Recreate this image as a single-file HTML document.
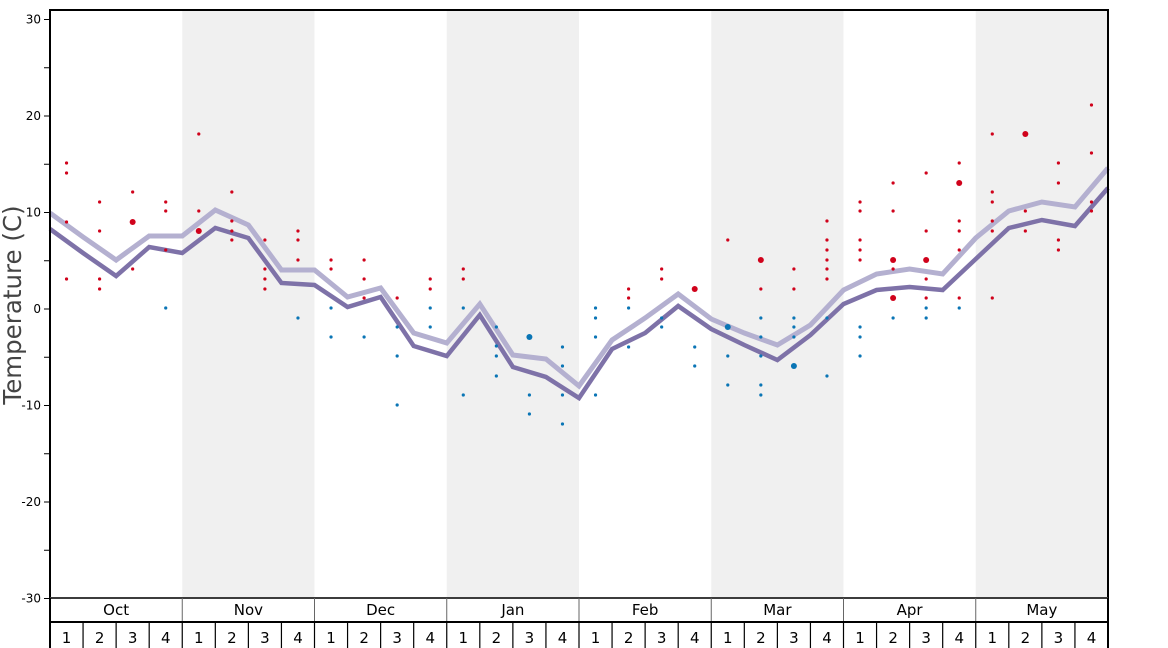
<!DOCTYPE html>
<html><head><meta charset="utf-8"><style>
html,body{margin:0;padding:0;background:#fff;width:1168px;height:648px;overflow:hidden}
svg{display:block;font-family:"DejaVu Sans","Liberation Sans",sans-serif}
</style></head><body>
<svg id="s" width="1168" height="648" xmlns="http://www.w3.org/2000/svg"></svg>
<script>
const s=document.getElementById('s');let h='';
const X0=50,X1=1108,MW=(X1-X0)/8,WW=MW/4;
const Y=v=>309-v*9.65;
for(const m of [1,3,5,7])h+=`<rect x="${X0+m*MW}" y="10" width="${MW}" height="588" fill="#f0f0f0"/>`;
for(let v=-30;v<=30;v+=5){const y=Y(v);h+=`<line x1="44" x2="50" y1="${y}" y2="${y}" stroke="#000" stroke-width="1"/>`;
if(v%10==0)h+=`<text x="41" y="${y+4}" font-size="12" text-anchor="end" fill="#000">${v}</text>`;}
h+=`<text transform="translate(21,305) rotate(-90)" font-size="24.5" text-anchor="middle" fill="#444">Temperature (C)</text>`;
const L=[213,237,260,236,236,210,225,270,270,297,288,333,343,304,355,359,386,340,318,294,319,333,345,325,290,274,269,274,238,211,202,207,168];
const D=[229,253,276,247,253,228,238,283,285,307,297,346,356,315,367,377,398,349,333,306,329,345,360,335,304,290,287,290,259,228,220,226,188];
const pts=a=>a.map((y,k)=>`${X0+k*WW},${y}`).join(' ');
h+=`<polyline points="${pts(L)}" fill="none" stroke="#b4b0d0" stroke-width="5" stroke-linejoin="miter"/>`;
h+=`<polyline points="${pts(D)}" fill="none" stroke="#7e72a8" stroke-width="4.5"/>`;
const dots=[
"r163 r173 r222 r279","r202 r231 r279 r289","r192 r222* r269","r202 r211 r250 b308",
"r134 r211 r231*","r192 r221 r231 r240","r240 r269 r279 r289","r231 r240 r260 b318",
"r260 r269 b308 b337","r260 r279 r298 b337","r298 b327 b356 b405","r279 r289 b308 b327",
"r269 r279 b308 b395","b327 b346 b356 b376","b337* b395 b414","b347 b366 b395 b424",
"b308 b318 b337 b395","r289 r298 b308 b347","r269 r279 b318 b327","r289* b347 b366",
"r240 b327* b356 b385","r260* r289 b318 b337 b356 b385 b395","r269 r289 b318 b327 b337 b366*","r221 r240 r250 r260 r269 r279 b318 b376",
"r202 r211 r240 r250 r260 b327 b337 b356","r183 r211 r260* r269 r298* b318","r173 r231 r260* r279 r298 b308 b318","r163 r183* r221 r231 r250 r298 b308",
"r134 r192 r202 r221 r231 r298","r134* r211 r231","r163 r183 r240 r250","r105 r153 r202 r211"];
dots.forEach((g,k)=>{const x=X0+(k+0.5)*WW;g.split(' ').forEach(d=>{const big=d.endsWith('*');const y=parseFloat(d.slice(1));
h+=`<circle cx="${x}" cy="${y}" r="${big?3:1.6}" fill="${d[0]=='r'?'#d0021b':'#0a75b5'}"/>`;});});
h+=`<rect x="${X0}" y="10" width="${X1-X0}" height="588" fill="none" stroke="#000" stroke-width="2"/>`;
h+=`<line x1="${X0}" x2="${X1}" y1="598" y2="598" stroke="#777" stroke-width="1"/>`;
const M=['Oct','Nov','Dec','Jan','Feb','Mar','Apr','May'];
M.forEach((m,i)=>{const x=X0+i*MW;if(i>0)h+=`<line x1="${x}" x2="${x}" y1="598" y2="622" stroke="#666" stroke-width="1"/>`;
h+=`<text x="${x+MW/2}" y="615" font-size="15" text-anchor="middle">${m}</text>`;
for(let w=0;w<4;w++){const wx=x+w*WW;if(i>0||w>0)h+=`<line x1="${wx}" x2="${wx}" y1="622" y2="648" stroke="#000" stroke-width="1.2"/>`;
h+=`<text x="${wx+WW/2}" y="643" font-size="15" text-anchor="middle">${w+1}</text>`;}});
h+=`<line x1="${X0}" x2="${X1}" y1="622" y2="622" stroke="#000" stroke-width="2"/>`;
h+=`<line x1="${X0}" x2="${X0}" y1="598" y2="648" stroke="#000" stroke-width="2"/>`;
h+=`<line x1="${X1}" x2="${X1}" y1="598" y2="648" stroke="#000" stroke-width="2"/>`;
s.innerHTML=h;
</script>
</body></html>
